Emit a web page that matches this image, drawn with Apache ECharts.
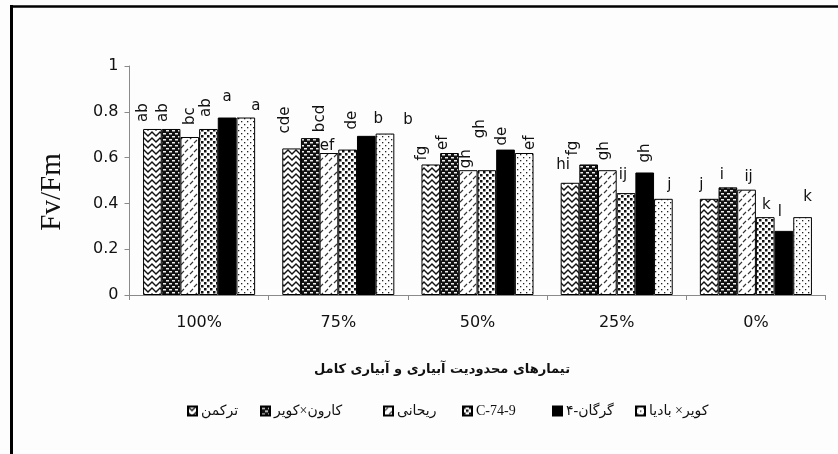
<!DOCTYPE html>
<html><head><meta charset="utf-8">
<script src="https://cdn.jsdelivr.net/npm/echarts@6/dist/echarts.min.js"></script>
<style>html,body{margin:0;padding:0;background:#fdfdfd}#c{width:838px;height:454px}</style>
</head><body><div id="c"></div>
<script>
// ---- data ----
const categories = ['100%', '75%', '50%', '25%', '0%'];
const seriesNames = ['ترکمن', 'کارون×کویر', 'ریحانی', 'C-74-9', 'گرگان-۴', 'کویر× بادیا'];
const valTorkaman = [0.725, 0.64, 0.57, 0.49, 0.42];
const valKarunKavir = [0.725, 0.685, 0.62, 0.57, 0.47];
const valReyhani = [0.69, 0.62, 0.545, 0.545, 0.46];
const valC749 = [0.725, 0.635, 0.545, 0.445, 0.34];
const valGorgan4 = [0.775, 0.695, 0.635, 0.535, 0.28];
const valKavirBadia = [0.775, 0.705, 0.62, 0.42, 0.34];
const lettersTorkaman = ['ab', 'cde', 'fg', 'hi', 'j'];
const lettersKarunKavir = ['ab', 'bcd', 'ef', 'fg', 'i'];
const lettersReyhani = ['bc', 'ef', 'gh', 'gh', 'ij'];
const lettersC749 = ['ab', 'de', 'gh', 'ij', 'k'];
const lettersGorgan4 = ['a', 'b', 'de', 'gh', 'l'];
const lettersKavirBadia = ['a', 'b', 'ef', 'j', 'k'];
const yTicks = [0, 0.2, 0.4, 0.6, 0.8, 1];
const yTitle = 'Fv/Fm';
const xTitle = 'تیمارهای محدودیت آبیاری و آبیاری کامل';

// ---- label layout (rotated flag, [dx, gap]) ----
const labelRot = [
  [1,1,1,0,0],[1,1,1,1,0],[1,0,1,1,0],[1,1,1,0,0],[0,0,1,1,0],[0,0,1,0,0]
];
const labelOff = [
  [[-9,7],[-7,15],[-9,4],[-7,12],[-8,8]],
  [[-8,7],[10,6],[-6,3],[-16,9],[-6,7]],
  [[0,12],[-2,1],[-2,2],[-3,10],[2,7]],
  [[-2,12],[4,20],[-7,32],[-3,12],[1,7]],
  [[0,15],[12,11],[-3,4],[0,10],[-4,13]],
  [[10,6],[23,8],[6,3],[6,8],[5,15]]
];

// ---- patterns ----
function pat(w, h, bg, draw) {
  const c = document.createElement('canvas'); c.width = w; c.height = h;
  const g = c.getContext('2d'); g.fillStyle = bg; g.fillRect(0, 0, w, h); draw(g);
  return { image: c, repeat: 'repeat' };
}
const fills = [
  pat(8, 6, '#fff', g => { g.strokeStyle = '#111'; g.lineWidth = 1.4; g.beginPath();
    g.moveTo(0, 0); g.lineTo(4, 4); g.lineTo(8, 0); g.moveTo(0, 6); g.lineTo(4, 10); g.lineTo(8, 6);
    g.moveTo(-4, 2); g.lineTo(0, 6); g.moveTo(8, 6); g.lineTo(12, 2); g.stroke(); }),
  pat(6, 6, '#111', g => { g.fillStyle = '#eee'; g.fillRect(1, 1, 3, 1.5); g.fillRect(4, 4, 3, 1.5); g.fillRect(-2, 4, 3, 1.5); }),
  pat(9, 9, '#fff', g => { g.strokeStyle = '#333'; g.lineWidth = 1.1; g.beginPath();
    g.moveTo(1, 4); g.lineTo(4, 1); g.moveTo(5, 8); g.lineTo(8, 5); g.stroke(); }),
  pat(6, 6, '#fff', g => { g.fillStyle = '#111'; g.fillRect(0, 0, 2.5, 2.5); g.fillRect(3, 3, 2.5, 2.5); }),
  '#000',
  pat(6, 6, '#fff', g => { g.fillStyle = '#222'; g.fillRect(1, 1, 1.3, 1.3); g.fillRect(4, 4, 1.3, 1.3); })
];

const values = [valTorkaman, valKarunKavir, valReyhani, valC749, valGorgan4, valKavirBadia];
const letters = [lettersTorkaman, lettersKarunKavir, lettersReyhani, lettersC749, lettersGorgan4, lettersKavirBadia];

const series = values.map((vals, si) => ({
  name: seriesNames[si], type: 'bar', barGap: '0%', barCategoryGap: '19.5%',
  itemStyle: { color: fills[si], borderColor: '#000', borderWidth: 1 },
  emphasis: { disabled: true },
  data: vals.map((v, di) => {
    const rot = labelRot[si][di], o = labelOff[si][di];
    const lab = rot
      ? { show: true, position: 'top', distance: 0, rotate: 90, align: 'left', verticalAlign: 'middle', offset: [o[1], o[0]] }
      : { show: true, position: 'top', distance: 0, offset: [o[0], -(o[1] - 2)] };
    lab.formatter = letters[si][di];
    lab.fontFamily = 'DejaVu Sans'; lab.fontSize = 15; lab.color = '#111';
    return { value: v, label: lab };
  })
}));

const legendX = [182, 255, 378, 457, 547, 630];
const legends = seriesNames.map((n, i) => ({
  data: [{ name: n, icon: 'rect' }], left: legendX[i], top: 399, itemWidth: 9, itemHeight: 9, itemGap: 0,
  selectedMode: false,
  textStyle: { fontFamily: 'Liberation Serif, DejaVu Sans', fontSize: 14, color: '#111', padding: [0, 0, 0, -1] }
}));

const chart = echarts.init(document.getElementById('c'), null, { renderer: 'canvas' });
chart.setOption({
  backgroundColor: '#fdfdfd',
  animation: false,
  grid: { left: 129.5, right: 12.5, top: 66, bottom: 159, containLabel: false },
  xAxis: {
    type: 'category', data: categories,
    axisLine: { show: true, lineStyle: { color: '#8a8a8a', width: 1 } },
    axisTick: { show: true, length: 5, lineStyle: { color: '#8a8a8a' } },
    axisLabel: { margin: 20, fontFamily: 'DejaVu Sans', fontSize: 16, color: '#111' }
  },
  yAxis: {
    type: 'value', min: 0, max: 1, interval: 0.2,
    axisLine: { show: true, lineStyle: { color: '#8a8a8a', width: 1 } },
    axisTick: { show: true, length: 5, lineStyle: { color: '#8a8a8a' } },
    splitLine: { show: false },
    axisLabel: { margin: 11, fontFamily: 'DejaVu Sans', fontSize: 16, color: '#111',
      formatter: v => { const t = yTicks.find(x => Math.abs(x - v) < 1e-9); return t === undefined ? '' : String(t); } }
  },
  legend: legends,
  series: series,
  graphic: [
    { type: 'text', x: 52, y: 192, rotation: Math.PI / 2,
      style: { text: yTitle, fontFamily: 'Liberation Serif', fontSize: 29, fill: '#111', align: 'center', verticalAlign: 'middle' } },
    { type: 'text', x: 442, y: 370,
      style: { text: xTitle, fontFamily: 'DejaVu Sans', fontWeight: 'bold', fontSize: 13, fill: '#111', align: 'center', verticalAlign: 'middle' } },
    { type: 'line', shape: { x1: 11.5, y1: 5, x2: 11.5, y2: 460 }, style: { stroke: '#000', lineWidth: 3 } },
    { type: 'line', shape: { x1: 10, y1: 6.5, x2: 840, y2: 6.5 }, style: { stroke: '#000', lineWidth: 2.5 } }
  ]
});
</script>
</body></html>
